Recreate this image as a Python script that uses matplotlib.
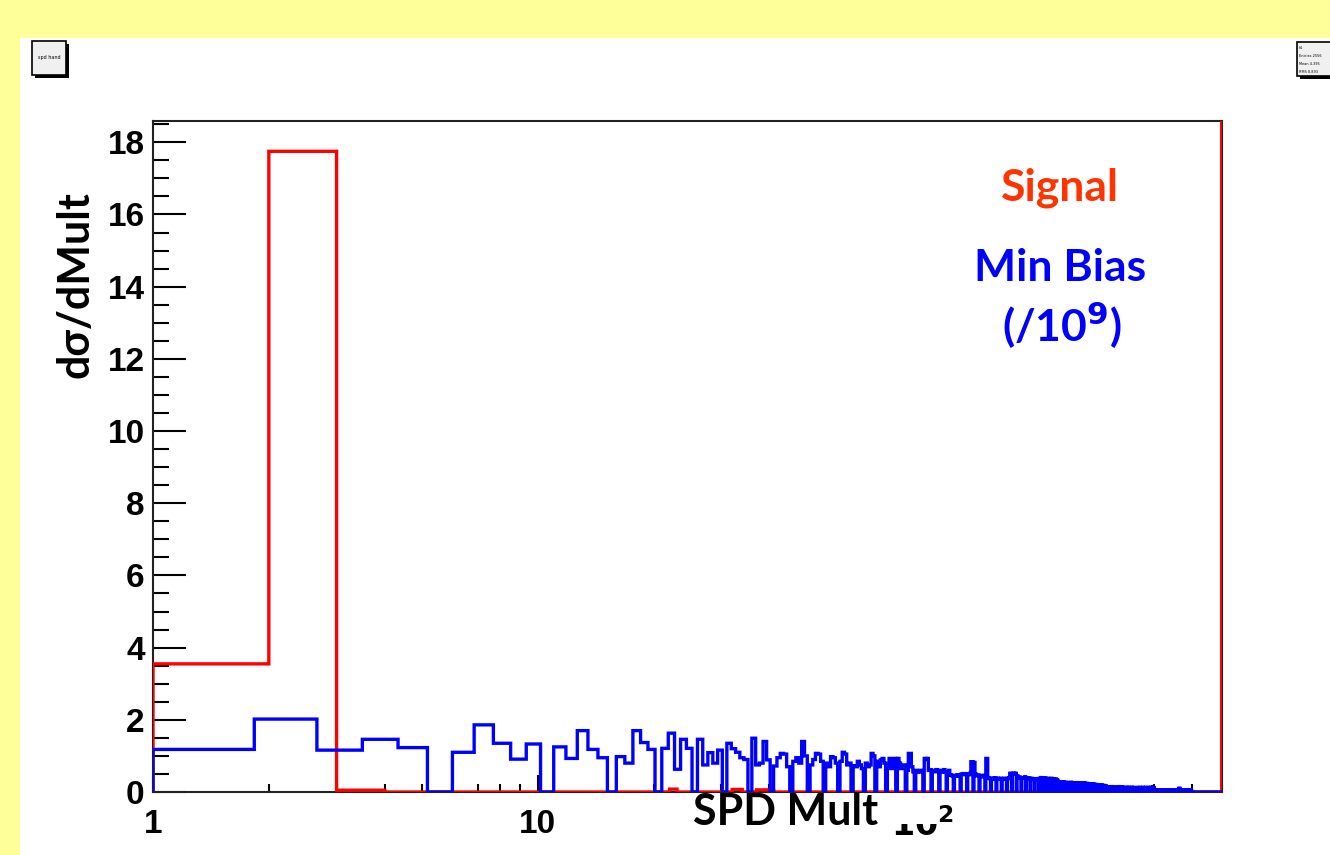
import numpy as np
import matplotlib
matplotlib.use("Agg")
import matplotlib.pyplot as plt
from matplotlib.patches import Rectangle
from matplotlib.ticker import FixedLocator, MultipleLocator, LogLocator, NullFormatter

# signal histogram (red): unit-width bins in SPD multiplicity, non-empty bins only
signal_mult = [1, 2, 3, 22, 32, 33, 37, 38, 39, 40, 599]
signal_vals = [3.55, 17.75, 0.05, 0.08, 0.07, 0.07, 0.06, 0.06, 0.06, 0.06, 40.0]

# min bias histogram (blue, /1e9): one value per SPD multiplicity 1..500
minbias_vals = [
    1.18, 2.02, 1.16, 1.46, 1.23, 1.10, 1.86, 1.35, 0.91, 1.33,
    1.25, 0.93, 1.70, 1.18, 0.95, 0.98, 0.80, 1.70, 1.37, 1.18,
    1.21, 1.63, 0.63, 1.46, 1.21, 1.46, 0.75, 1.09, 0.80, 1.16,
    1.35, 1.20, 1.10, 0.95, 0.90, 1.49, 0.75, 0.80, 1.40, 0.89,
    0.72, 0.95, 1.07, 1.05, 0.70, 0.85, 0.95, 0.80, 1.40, 1.00,
    0.75, 0.90, 1.07, 1.05, 0.85, 0.80, 0.70, 0.98, 0.95, 0.80,
    0.85, 1.10, 1.05, 0.75, 0.80, 0.73, 0.70, 0.85, 0.75, 0.65,
    0.80, 0.70, 0.75, 1.07, 1.00, 0.85, 0.70, 0.89, 0.93, 0.80,
    0.75, 0.93, 0.65, 0.90, 0.93, 0.93, 0.80, 0.65, 0.70, 0.75,
    0.60, 1.07, 1.07, 0.70, 0.56, 0.60, 0.55, 0.56, 0.60, 0.58,
    0.93, 0.90, 0.93, 0.60, 0.62, 0.58, 0.60, 0.56, 0.62, 0.58,
    0.60, 0.55, 0.58, 0.62, 0.56, 0.52, 0.60, 0.48, 0.46, 0.45,
    0.46, 0.44, 0.47, 0.45, 0.48, 0.50, 0.49, 0.51, 0.48, 0.50,
    0.50, 0.48, 0.52, 0.84, 0.84, 0.82, 0.50, 0.46, 0.45, 0.47,
    0.44, 0.46, 0.45, 0.42, 0.46, 0.93, 0.93, 0.40, 0.38, 0.37,
    0.38, 0.36, 0.38, 0.37, 0.39, 0.36, 0.38, 0.37, 0.36, 0.38,
    0.37, 0.36, 0.38, 0.37, 0.36, 0.38, 0.37, 0.40, 0.52, 0.52,
    0.50, 0.52, 0.51, 0.50, 0.52, 0.45, 0.42, 0.40, 0.41, 0.40,
    0.38, 0.40, 0.39, 0.38, 0.42, 0.40, 0.38, 0.39, 0.37, 0.38,
    0.36, 0.38, 0.35, 0.37, 0.36, 0.35, 0.36, 0.34, 0.35, 0.36,
    0.38, 0.37, 0.40, 0.36, 0.38, 0.37, 0.39, 0.36, 0.38, 0.37,
    0.36, 0.38, 0.35, 0.37, 0.36, 0.38, 0.35, 0.36, 0.34, 0.37,
    0.35, 0.36, 0.33, 0.34, 0.30, 0.28, 0.27, 0.28, 0.26, 0.27,
    0.27, 0.26, 0.27, 0.25, 0.26, 0.27, 0.25, 0.26, 0.24, 0.26,
    0.26, 0.25, 0.27, 0.25, 0.26, 0.24, 0.25, 0.26, 0.24, 0.25,
    0.25, 0.24, 0.26, 0.24, 0.25, 0.23, 0.24, 0.25, 0.23, 0.24,
    0.24, 0.23, 0.25, 0.23, 0.24, 0.22, 0.23, 0.24, 0.22, 0.23,
    0.22, 0.21, 0.23, 0.21, 0.22, 0.20, 0.21, 0.22, 0.20, 0.21,
    0.20, 0.19, 0.21, 0.19, 0.20, 0.18, 0.19, 0.20, 0.18, 0.19,
    0.18, 0.17, 0.19, 0.17, 0.18, 0.16, 0.17, 0.18, 0.16, 0.17,
    0.14, 0.13, 0.12, 0.14, 0.13, 0.12, 0.13, 0.14, 0.12, 0.13,
    0.15, 0.13, 0.14, 0.12, 0.13, 0.14, 0.13, 0.12, 0.14, 0.13,
    0.12, 0.13, 0.15, 0.13, 0.12, 0.14, 0.13, 0.12, 0.13, 0.14,
    0.12, 0.11, 0.13, 0.12, 0.11, 0.12, 0.13, 0.11, 0.12, 0.11,
    0.13, 0.12, 0.11, 0.12, 0.13, 0.11, 0.12, 0.11, 0.12, 0.13,
    0.11, 0.12, 0.11, 0.13, 0.12, 0.11, 0.12, 0.11, 0.12, 0.11,
    0.12, 0.13, 0.11, 0.12, 0.11, 0.12, 0.11, 0.13, 0.12, 0.11,
    0.12, 0.11, 0.12, 0.13, 0.12, 0.11, 0.12, 0.11, 0.12, 0.13,
    0.12, 0.11, 0.12, 0.11, 0.12, 0.13, 0.12, 0.11, 0.12, 0.11,
    0.12, 0.13, 0.12, 0.11, 0.12, 0.13, 0.14, 0.12, 0.11, 0.10,
    0.05, 0.05, 0.04, 0.05, 0.05, 0.04, 0.05, 0.05, 0.04, 0.05,
    0.05, 0.04, 0.05, 0.05, 0.04, 0.05, 0.04, 0.05, 0.05, 0.04,
    0.05, 0.05, 0.04, 0.05, 0.05, 0.04, 0.05, 0.05, 0.04, 0.05,
    0.04, 0.05, 0.05, 0.04, 0.05, 0.05, 0.04, 0.05, 0.04, 0.05,
    0.05, 0.04, 0.05, 0.05, 0.04, 0.05, 0.05, 0.04, 0.05, 0.05,
    0.04, 0.05, 0.05, 0.04, 0.05, 0.04, 0.05, 0.05, 0.04, 0.05,
    0.05, 0.05, 0.10, 0.10, 0.10, 0.10, 0.05, 0.04, 0.05, 0.04,
    0.05, 0.04, 0.05, 0.05, 0.04, 0.05, 0.05, 0.04, 0.05, 0.05,
    0.04, 0.05, 0.05, 0.04, 0.05, 0.04, 0.05, 0.05, 0.04, 0.05,
    0.05, 0.04, 0.05, 0.05, 0.04, 0.05, 0.05, 0.04, 0.05, 0.04,
]
minbias_mult = np.arange(1, len(minbias_vals) + 1)

x_ticks = [1, 10, 100]
x_ticklabels = ["1", "10", r"$\mathbf{10^{2}}$"]
y_ticks = [0, 2, 4, 6, 8, 10, 12, 14, 16, 18]

W, H = 1330, 855
fig = plt.figure(figsize=(W / 100, H / 100), dpi=100)
fig.patch.set_facecolor("#ffff99")
# white canvas
fig.add_artist(Rectangle((20 / W, 0), 1 - 20 / W, 1 - 38 / H, transform=fig.transFigure,
                         facecolor="white", edgecolor="none", zorder=0))

ax = fig.add_axes([153 / W, 1 - 792 / H, (1222 - 153) / W, (792 - 121) / H])

# bins: blue uses 6 bins per 5 units starting at 1, red uses unit bins
mb_edges = (6 + 5 * np.arange(721)) / 6
sig_edges = np.arange(1, 601)
ax.hist(minbias_mult, bins=mb_edges, weights=minbias_vals, histtype="step",
        color="#0000ff", lw=2.4, zorder=4)
ax.hist(signal_mult, bins=sig_edges, weights=signal_vals, histtype="step",
        color="#ff0000", lw=2.4, zorder=3)

ax.set_xscale("log")
ax.set_xlim(1, 600)
ax.set_ylim(0, 18.59)

tick_font = dict(family="Liberation Sans", weight="bold", size=24)
ax.xaxis.set_major_locator(FixedLocator(x_ticks))
ax.set_xticks(x_ticks)
ax.set_xticklabels(x_ticklabels, **tick_font)
ax.xaxis.set_minor_locator(LogLocator(base=10, subs=np.arange(2, 10)))
ax.xaxis.set_minor_formatter(NullFormatter())
ax.set_yticks(y_ticks)
ax.set_yticklabels([str(v) for v in y_ticks], **tick_font)
ax.yaxis.set_minor_locator(MultipleLocator(0.5))

ax.tick_params(axis="x", which="major", direction="in", length=12, width=1.5, pad=12)
ax.tick_params(axis="x", which="minor", direction="in", length=6, width=1.5)
ax.tick_params(axis="y", which="major", direction="in", length=24, width=1.5, pad=6)
ax.tick_params(axis="y", which="minor", direction="in", length=11.5, width=1.5)
for s in ax.spines.values():
    s.set_linewidth(1.5)
    s.set_color("#222222")

lbl_font = ["Lato", "DejaVu Sans"]
fig.text(75 / W, 1 - 285 / H, "dσ/dMult", rotation=90, ha="center", va="center",
         fontsize=31, fontweight="bold", family=lbl_font)

# x title sits on a white box that hides the top of the 10^2 label
fig.add_artist(Rectangle((684 / W, 1 - 824 / H), (938 - 684) / W, 30 / H,
                         transform=fig.transFigure, facecolor="white", edgecolor="none",
                         zorder=5))
fig.text(786 / W, 1 - 812 / H, "SPD Mult", ha="center", va="center",
         fontsize=31, fontweight="bold", family=lbl_font, zorder=10)

fig.text(1060 / W, 1 - 188 / H, "Signal", ha="center", va="center", color="#ff3300",
         fontsize=32, fontweight="bold", family=lbl_font)
fig.text(1060 / W, 1 - 268 / H, "Min Bias", ha="center", va="center", color="#0000ff",
         fontsize=32, fontweight="bold", family=lbl_font)
fig.text(1062 / W, 1 - 325 / H, r"(/10$^{\mathbf{9}}$)", ha="center", va="center",
         color="#0000ff", fontsize=32, fontweight="bold", family=lbl_font)

# small ROOT boxes in the corners
def root_box(x0, y0, w, h):
    fig.add_artist(Rectangle(((x0 + 3) / W, 1 - (y0 + h + 3) / H), w / W, h / H,
                             transform=fig.transFigure, facecolor="black", edgecolor="none"))
    fig.add_artist(Rectangle((x0 / W, 1 - (y0 + h) / H), w / W, h / H,
                             transform=fig.transFigure, facecolor="#f0f0f0",
                             edgecolor="black", lw=1.2))

root_box(32, 41, 34, 34)
fig.text(49 / W, 1 - 58 / H, "spd hand", fontsize=3.5, ha="center", va="center")
root_box(1297, 42, 40, 34)
for i, t in enumerate(["h1", "Entries 2556", "Mean 4.395", "RMS 8.893"]):
    fig.text(1299 / W, 1 - (48 + i * 8) / H, t, fontsize=2.5, va="center")

fig.savefig("out.png", dpi=100, facecolor=fig.get_facecolor())
